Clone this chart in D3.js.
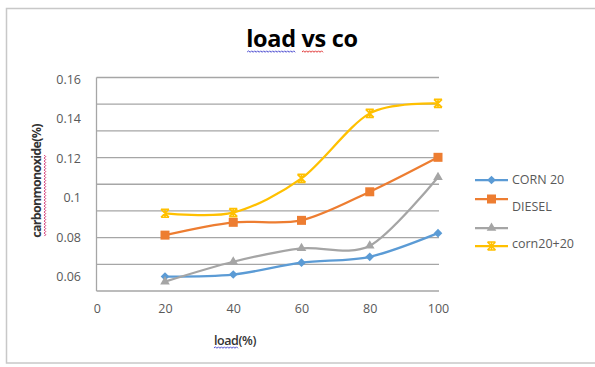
<!DOCTYPE html>
<html>
<head>
<meta charset="utf-8">
<script src="https://cdn.jsdelivr.net/npm/d3@7"></script>
<style>
  html, body { margin: 0; padding: 0; background: #fff; }
  svg { display: block; }
  text { font-family: "Open Sans", "Liberation Sans", sans-serif; }
</style>
</head>
<body>
<svg id="chart" width="595" height="367"></svg>
<script>
// ---------- data ----------
const loads = [20, 40, 60, 80, 100];
const corn20 = [0.060, 0.061, 0.067, 0.070, 0.082];
const diesel = [0.081, 0.0875, 0.0885, 0.103, 0.1205];
const series3 = [0.0574, 0.0675, 0.0743, 0.0756, 0.1104];
const corn20plus20 = [0.0921, 0.0924, 0.1098, 0.1428, 0.1479];
const seriesNames = ["CORN 20", "DIESEL", "", "corn20+20"];
const xTicks = [0, 20, 40, 60, 80, 100];
const yTicks = [0.06, 0.08, 0.1, 0.12, 0.14, 0.16];
const yTickLabels = ["0.06", "0.08", "0.1", "0.12", "0.14", "0.16"];
const titleText = "load vs co";
const xTitle = "load(%)";
const yTitle = "carbonmonoxide(%)";

// ---------- layout ----------
const svg = d3.select("#chart");
const plot = { left: 96.5, right: 439, top: 77.5, bottom: 291 };
const colors = ["#5B9BD5", "#ED7D31", "#A5A5A5", "#FFC000"];
const allSeries = [corn20, diesel, series3, corn20plus20];

// outer chart border
svg.append("rect").attr("x", 6.5).attr("y", 8.5).attr("width", 600).attr("height", 354.5)
  .attr("fill", "#fff").attr("stroke", "#c8c8c8").attr("stroke-width", 1.5);

const x = d3.scaleLinear().domain([0, 100]).range([96.75, 438]);
const y = d3.scaleLinear().domain([0.06, 0.16]).range([276.5, 79.5]);

// gridlines: 9 evenly spaced horizontal lines across the plot area
const gridScale = d3.scaleLinear().domain([0, 8]).range([plot.bottom, plot.top]);
svg.append("g").selectAll("line").data(d3.range(9)).join("line")
  .attr("x1", plot.left).attr("x2", plot.right)
  .attr("y1", d => gridScale(d)).attr("y2", d => gridScale(d))
  .attr("stroke", "#a6a6a6").attr("stroke-width", 1.3);
// left axis line
svg.append("line").attr("x1", plot.left).attr("x2", plot.left)
  .attr("y1", plot.top).attr("y2", plot.bottom)
  .attr("stroke", "#a6a6a6").attr("stroke-width", 1.3);

// y tick labels
const yAxis = d3.axisLeft(y).tickValues(yTicks).tickSize(0).tickPadding(0)
  .tickFormat((d, i) => yTickLabels[i]);
const gy = svg.append("g").attr("transform", "translate(81,0)").call(yAxis);
gy.select(".domain").remove();
gy.selectAll("text").attr("font-size", 12.5).attr("fill", "#595959")
  .attr("font-family", "'Open Sans', sans-serif");

// x tick labels
const xAxis = d3.axisBottom(x).tickValues(xTicks).tickSize(0).tickPadding(0);
const gx = svg.append("g").attr("transform", "translate(0,304)").call(xAxis);
gx.select(".domain").remove();
gx.selectAll("text").attr("font-size", 12.5).attr("fill", "#595959")
  .attr("font-family", "'Open Sans', sans-serif");

// lines
const line = d3.line().x(d => x(d[0])).y(d => y(d[1])).curve(d3.curveCardinal.tension(0.1));
allSeries.forEach((s, i) => {
  const pts = loads.map((l, j) => [l, s[j]]);
  svg.append("path").datum(pts).attr("d", line)
    .attr("fill", "none").attr("stroke", colors[i]).attr("stroke-width", 2.25);
});

// markers
function drawMarker(g, type, cx, cy, color) {
  if (type === 0) {
    g.append("path").attr("d", d3.symbol(d3.symbolDiamond2, 48)())
      .attr("transform", `translate(${cx},${cy})`).attr("fill", color);
  } else if (type === 1) {
    g.append("rect").attr("x", cx - 4.5).attr("y", cy - 4.5).attr("width", 9).attr("height", 9)
      .attr("fill", color);
  } else if (type === 2) {
    g.append("path").attr("d", d3.symbol(d3.symbolTriangle, 40)())
      .attr("transform", `translate(${cx},${cy})`).attr("fill", color);
  } else {
    const r = 4;
    g.append("path")
      .attr("d", `M${cx - r},${cy - r}L${cx + r},${cy + r}M${cx + r},${cy - r}L${cx - r},${cy + r}M${cx - r},${cy - r}L${cx + r},${cy - r}M${cx - r},${cy + r}L${cx + r},${cy + r}M${cx},${cy - r}L${cx},${cy + r}`)
      .attr("stroke", color).attr("stroke-width", 1.6).attr("fill", "none");
  }
}
const mg = svg.append("g");
allSeries.forEach((s, i) => {
  loads.forEach((l, j) => drawMarker(mg, i, x(l), y(s[j]), colors[i]));
});

// wavy underline helper
function wavy(x0, x1, yy, color) {
  let d = `M${x0},${yy}`;
  let up = true;
  for (let xx = x0 + 1.5; xx <= x1; xx += 1.5) {
    d += `L${xx},${up ? yy - 1.2 : yy + 0.3}`;
    up = !up;
  }
  svg.append("path").attr("d", d).attr("fill", "none").attr("stroke", color).attr("stroke-width", 1);
}

// title
const t = svg.append("text").attr("x", 302).attr("y", 47).attr("text-anchor", "middle")
  .attr("font-size", 23.5).attr("font-weight", "bold").attr("fill", "#000")
  .attr("font-family", "'Open Sans', sans-serif").style("letter-spacing", "-0.3px")
  .text(titleText);
const tb = t.node().getBBox();
wavy(tb.x + 1, tb.x + tb.width * 0.44, 52, "#4a4ad0");
wavy(tb.x + tb.width * 0.50, tb.x + tb.width * 0.70, 52, "#e03030");

// x title
const xt = svg.append("text").attr("x", 235).attr("y", 345).attr("text-anchor", "middle")
  .attr("font-size", 12.5).attr("font-weight", "600").attr("fill", "#333")
  .attr("font-family", "'Open Sans', sans-serif").style("letter-spacing", "-0.4px")
  .text(xTitle);
const xb = xt.node().getBBox();
wavy(xb.x, xb.x + xb.width * 0.58, 348, "#5050d0");

// y title
const yt = svg.append("text").attr("transform", "translate(41,181) rotate(-90)")
  .attr("text-anchor", "middle").attr("font-size", 12.5).attr("font-weight", "bold")
  .attr("fill", "#333").attr("font-family", "'Open Sans', sans-serif")
  .style("letter-spacing", "-0.7px").text(yTitle);
// pink spell-check underline along y title
const yyb = yt.node().getBBox();
(function () {
  const x0 = 44.5, ya = 181 + yyb.width / 2 - 2, yb = 181 - yyb.width / 2 + 30;
  let d = `M${x0},${ya}`;
  let left = true;
  for (let yy = ya - 1.5; yy >= yb; yy -= 1.5) {
    d += `L${left ? x0 + 1.2 : x0 - 0.3},${yy}`;
    left = !left;
  }
  svg.append("path").attr("d", d).attr("fill", "none").attr("stroke", "#d03070").attr("stroke-width", 1);
})();

// legend
const legendRows = [180, 199, 228, 246];
const legendTextY = [180, 207, 228, 244];
const lg = svg.append("g");
seriesNames.forEach((name, i) => {
  lg.append("line").attr("x1", 475).attr("x2", 508)
    .attr("y1", legendRows[i]).attr("y2", legendRows[i])
    .attr("stroke", colors[i]).attr("stroke-width", 2.25);
  drawMarker(lg, i, 491.5, legendRows[i], colors[i]);
  lg.append("text").attr("x", 512).attr("y", legendTextY[i]).attr("dy", "0.35em")
    .attr("font-size", 12.5).attr("fill", "#595959")
    .attr("font-family", "'Open Sans', sans-serif").text(name);
});
</script>
</body>
</html>
